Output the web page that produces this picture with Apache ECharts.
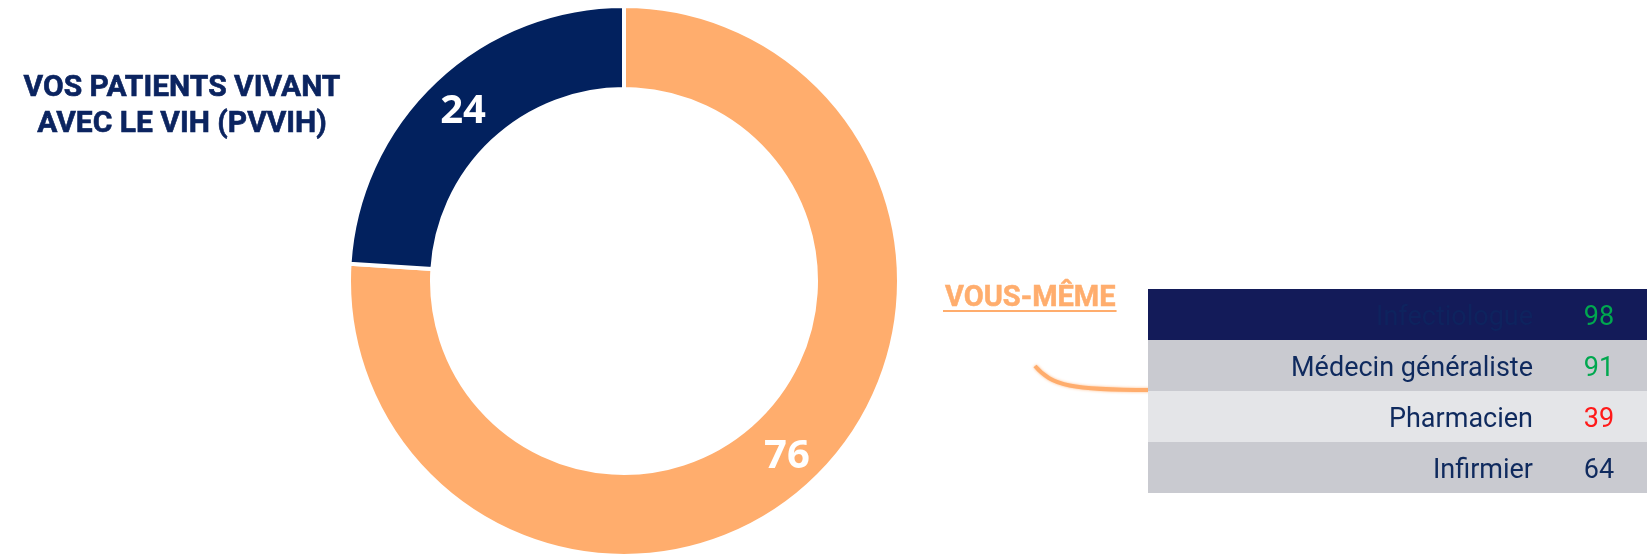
<!DOCTYPE html>
<html>
<head>
<meta charset="utf-8">
<script src="https://cdn.jsdelivr.net/npm/echarts@6/dist/echarts.min.js"></script>
<style>
  html, body { margin: 0; padding: 0; background: #ffffff; }
  #chart { width: 1647px; height: 554px; }
</style>
</head>
<body>
<div id="chart"></div>
<script>
// Donut: share of patients living with HIV vs. oneself
const pieNames = ['VOUS-MÊME', 'VOS PATIENTS VIVANT AVEC LE VIH (PVVIH)'];
const pieValues = [76, 24];
const pieColors = ['#FFAD6D', '#02215E'];

// Side table: professional -> score
const tableLabels = ['Infectiologue', 'Médecin généraliste', 'Pharmacien', 'Infirmier'];
const tableValues = [98, 91, 39, 64];
const tableValueColors = ['#00A84F', '#00A84F', '#FF1A1A', '#0F2A5E'];
const tableRowColors = ['#131B59', '#C9CAD0', '#E4E5E8', '#C9CAD0'];
const tableLabelColors = ['#0E235E', '#0F2A5E', '#0F2A5E', '#0F2A5E'];

const NAVY = '#0B2460';
const ORANGE = '#FFAD6D';

const chart = echarts.init(document.getElementById('chart'), null, { renderer: 'canvas' });

// width of the orange heading, used to size its underline
const headFont = 'bold 29px Roboto';
const ctx = document.createElement('canvas').getContext('2d');
ctx.font = headFont;
const headX = 945;
const headW = ctx.measureText(pieNames[0]).width;

chart.setOption({
  animation: false,
  title: {
    text: 'VOS PATIENTS VIVANT\nAVEC LE VIH (PVVIH)',
    left: 177,
    top: 65,
    textAlign: 'center',
    textStyle: {
      fontFamily: 'Roboto',
      fontWeight: 'bold',
      fontSize: 30,
      lineHeight: 36,
      color: NAVY,
      textBorderColor: NAVY,
      textBorderWidth: 0.6
    }
  },
  grid: { left: 1148, top: 289, width: 499, height: 204 },
  xAxis: { type: 'value', min: 0, max: 100, show: false },
  yAxis: { type: 'category', data: tableLabels, inverse: true, show: false },
  graphic: [
    {
      type: 'bezierCurve',
      z: 1,
      shape: { x1: 1035, y1: 366, cpx1: 1052, cpy1: 386, cpx2: 1072, cpy2: 390, x2: 1150, y2: 390 },
      style: { stroke: ORANGE, lineWidth: 4, fill: null, shadowBlur: 3, shadowColor: 'rgba(255,173,109,0.8)' }
    },
    {
      type: 'text',
      x: headX,
      y: 284,
      style: { text: pieNames[0], font: headFont, fill: ORANGE, stroke: ORANGE, lineWidth: 0.5 }
    },
    {
      type: 'line',
      shape: { x1: headX - 2, y1: 311, x2: headX + headW + 1, y2: 311 },
      style: { stroke: ORANGE, lineWidth: 2 }
    }
  ],
  series: [
    {
      type: 'pie',
      center: [624, 281],
      radius: [192, 275],
      startAngle: 90,
      clockwise: true,
      silent: true,
      itemStyle: { borderColor: '#ffffff', borderWidth: 4 },
      label: {
        show: true,
        position: 'inside',
        formatter: '{c}',
        fontFamily: 'Open Sans',
        fontWeight: 'bold',
        fontSize: 40,
        color: '#ffffff',
        offset: [1, 3]
      },
      labelLine: { show: false },
      data: pieValues.map((v, i) => ({ name: pieNames[i], value: v, itemStyle: { color: pieColors[i] } }))
    },
    {
      type: 'custom',
      z: 5,
      silent: true,
      data: tableValues.map((v, i) => [v, i]),
      encode: { x: 0, y: 1 },
      renderItem: function (params, api) {
        const idx = params.dataIndex;
        const cs = params.coordSys;
        const cy = api.coord([0, api.value(1)])[1];
        const bandH = api.size([0, 1])[1];
        const ty = cy + 4;
        return {
          type: 'group',
          children: [
            {
              type: 'rect',
              shape: { x: cs.x, y: cy - bandH / 2, width: cs.width, height: bandH },
              style: { fill: tableRowColors[idx] }
            },
            {
              type: 'text',
              x: cs.x + 385,
              y: ty,
              style: {
                text: tableLabels[idx],
                font: '27px Roboto',
                fill: tableLabelColors[idx],
                align: 'right',
                verticalAlign: 'middle'
              }
            },
            {
              type: 'text',
              x: cs.x + 451,
              y: ty,
              style: {
                text: String(api.value(0)),
                font: '27px Roboto',
                fill: tableValueColors[idx],
                align: 'center',
                verticalAlign: 'middle'
              }
            }
          ]
        };
      }
    }
  ]
});
</script>
</body>
</html>
